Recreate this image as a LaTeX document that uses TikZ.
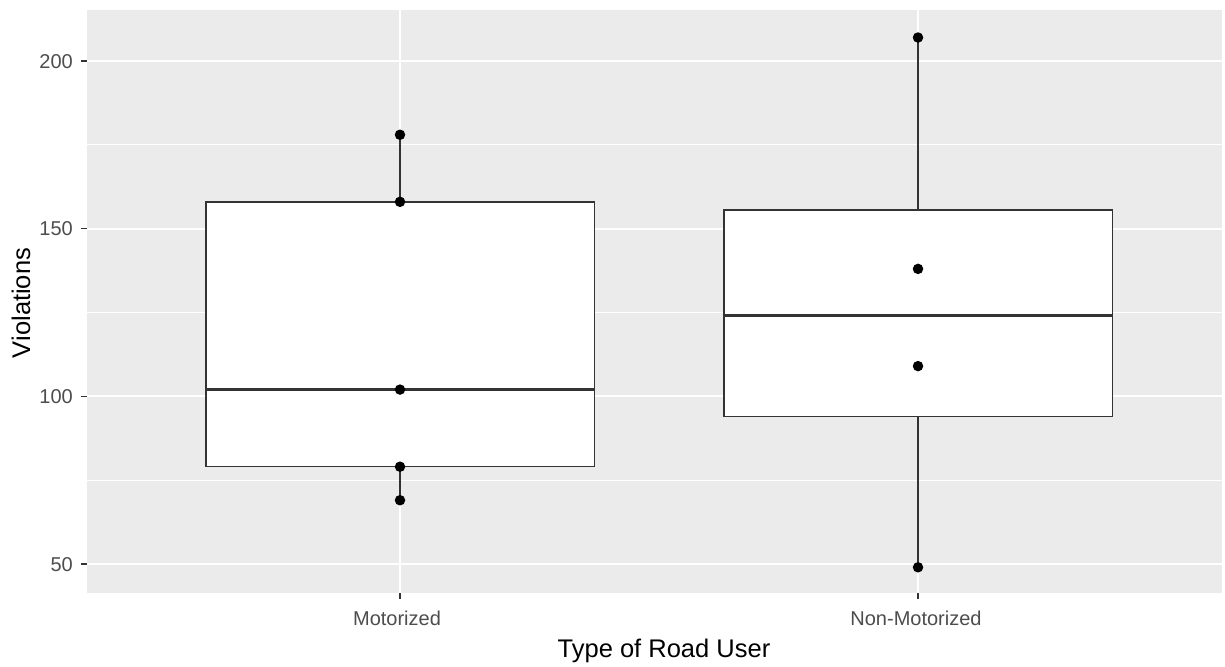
\documentclass[tikz,border=0pt]{standalone}
\usepackage{fontspec}
\setmainfont{Liberation Sans}
\definecolor{panelbg}{HTML}{EBEBEB}
\definecolor{inkdark}{HTML}{333333}
\definecolor{ticktext}{HTML}{4D4D4D}
\tikzset{
  gridmajor/.style={white, line width=2.2pt},
  gridminor/.style={white, line width=1.1pt},
  boxline/.style={inkdark, line width=1.5pt},
  medianline/.style={inkdark, line width=3pt},
  tickmark/.style={inkdark, line width=1.4pt},
  datadot/.style={circle, fill=black, inner sep=0pt, minimum size=10.5pt},
  ticklabel/.style={text=ticktext, font=\fontsize{20}{24}\selectfont, inner sep=0pt},
  axistitle/.style={text=black, font=\fontsize{25.5}{30}\selectfont, inner sep=0pt},
}
\begin{document}
\begin{tikzpicture}
\useasboundingbox (0pt,0pt) rectangle (1225pt,666pt);
\fill[white] (0pt,0pt) rectangle (1225pt,666pt);
% data coordinates: x = category, y = violations
\begin{scope}[shift={(-118pt,-65.6pt)}, x=518pt, y=3.353pt]
  \fill[panelbg] (0.3958,41.3) rectangle (2.587,215.2);
  % grid
  \foreach \v in {75,125,175}
    \draw[gridminor] (0.3958,\v) -- (2.587,\v);
  \foreach \v in {50,100,150,200}
    \draw[gridmajor] (0.3958,\v) -- (2.587,\v);
  \foreach \c in {1,2}
    \draw[gridmajor] (\c,41.3) -- (\c,215.2);
  % axis ticks
  \foreach \v in {50,100,150,200}
    \draw[tickmark] (0.3958,\v) -- ++(-6pt,0pt);
  \foreach \c in {1,2}
    \draw[tickmark] (\c,41.3) -- ++(0pt,-6pt);
  % Motorized
  \draw[boxline] (1,158) -- (1,178);
  \draw[boxline] (1,79) -- (1,69);
  \draw[boxline, fill=white] (0.625,79) rectangle (1.375,158);
  \draw[medianline] (0.625,102) -- (1.375,102);
  % Non-Motorized
  \draw[boxline] (2,155.5) -- (2,207);
  \draw[boxline] (2,94) -- (2,49);
  \draw[boxline, fill=white] (1.625,94) rectangle (2.375,155.5);
  \draw[medianline] (1.625,124) -- (2.375,124);
  % observations
  \node[datadot] (m1) at (1,178) {};
  \node[datadot] (m2) at (1,158) {};
  \node[datadot] (m3) at (1,102) {};
  \node[datadot] (m4) at (1,79) {};
  \node[datadot] (m5) at (1,69) {};
  \node[datadot] (n1) at (2,207) {};
  \node[datadot] (n2) at (2,138) {};
  \node[datadot] (n3) at (2,109) {};
  \node[datadot] (n4) at (2,49) {};
  % tick labels
  \foreach \v in {50,100,150,200}
    \node[ticklabel, anchor=base east] (yl\v) at ([shift={(-14pt,-7.2pt)}]0.3958,\v) {\v};
\end{scope}
\node[ticklabel, anchor=base] (xl1) at (397pt,40pt) {Motorized};
\node[ticklabel, anchor=base] (xl2) at (916pt,40pt) {Non-Motorized};
\node[axistitle, anchor=base] (xt) at (664pt,9pt) {Type of Road User};
\node[axistitle, anchor=base, rotate=90] (yt) at (30pt,363pt) {Violations};
\end{tikzpicture}
\end{document}
